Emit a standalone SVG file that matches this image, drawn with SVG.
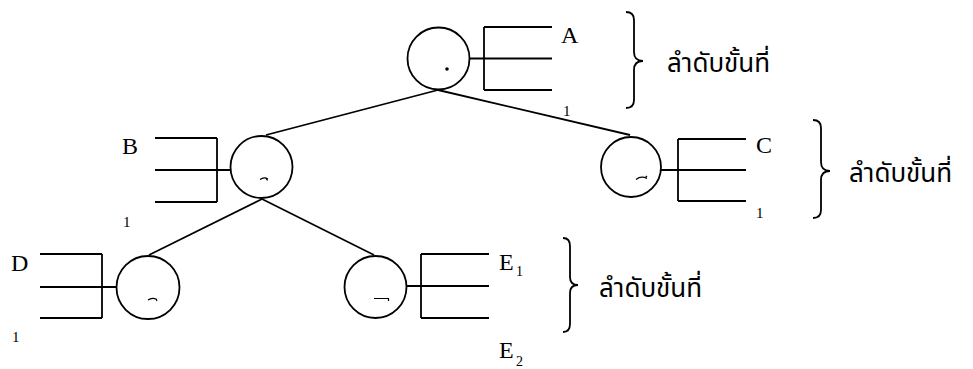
<svg xmlns="http://www.w3.org/2000/svg" width="973" height="369" viewBox="0 0 973 369">
  <style>
    .ln { stroke: #000; stroke-width: 1.8; fill: none; }
    .node circle { stroke: #000; stroke-width: 1.8; fill: #fff; }
    .mark { stroke: #000; stroke-width: 1.2; fill: none; }
    .lbl { font-family: "Liberation Serif", "Times New Roman", serif; font-size: 24px; fill: #000; }
    .sub { font-family: "Liberation Serif", "Times New Roman", serif; font-size: 14px; fill: #000; }
    .num { font-family: "Liberation Serif", "Times New Roman", serif; font-size: 15px; fill: #000; }
    .thai { font-family: "Noto Sans Thai", "Noto Sans", "DejaVu Sans", sans-serif; font-size: 26px; fill: #000; }
  </style>

  <!-- tree edges -->
  <g id="connectors" class="ln">
    <line x1="438" y1="90" x2="266" y2="135"/>
    <line x1="438" y1="90" x2="630" y2="135"/>
    <line x1="262" y1="199" x2="149" y2="255"/>
    <line x1="262" y1="199" x2="374" y2="255"/>
  </g>

  <!-- root node A -->
  <g id="node-A" class="node">
    <circle cx="438.5" cy="58.5" r="31"/>
    <circle cx="447" cy="69" r="0.9" fill="#000" stroke="none"/>
    <path class="ln" d="M469.5 58.5H552M484 27V90M484 27H552M484 90H552"/>
    <text class="lbl" x="561" y="43">A</text>
    <text class="num" x="563" y="116">1</text>
  </g>

  <!-- node B -->
  <g id="node-B" class="node">
    <circle cx="261.5" cy="167" r="31"/>
    <path class="mark" d="M260 179.5Q264 176.5 268 179M266 178.5l1.5 2"/>
    <path class="ln" d="M155 170H230.5M217 138V202M155 138H217M155 202H217"/>
    <text class="lbl" x="122" y="154">B</text>
    <text class="num" x="123" y="227">1</text>
  </g>

  <!-- node C -->
  <g id="node-C" class="node">
    <circle cx="631" cy="167" r="30"/>
    <path class="mark" d="M636 179.5Q641 175.5 647 178.5M645.5 177.5l1.5 -1.5"/>
    <path class="ln" d="M661 170H746M678 139V201M678 139H746M678 201H746"/>
    <text class="lbl" x="756" y="153">C</text>
    <text class="num" x="756" y="218">1</text>
  </g>

  <!-- node D -->
  <g id="node-D" class="node">
    <circle cx="148" cy="287.5" r="31.5"/>
    <path class="mark" d="M148 300Q152 297 157 299.5M156 299l1 2"/>
    <path class="ln" d="M40 287H116.5M102 254V318M40 254H102M40 318H102"/>
    <text class="lbl" x="11" y="271">D</text>
    <text class="num" x="12" y="342">1</text>
  </g>

  <!-- node E -->
  <g id="node-E" class="node">
    <circle cx="375.5" cy="287" r="31"/>
    <path class="mark" d="M374 298.5H389M388.5 298.5v2.5"/>
    <path class="ln" d="M406.5 286H489M421 254V318M421 254H489M421 318H489"/>
    <text class="lbl" x="499" y="270">E</text>
    <text class="sub" x="516" y="276">1</text>
    <text class="lbl" x="499" y="358">E</text>
    <text class="sub" x="516" y="366">2</text>
  </g>

  <!-- level braces with captions -->
  <g id="level-1">
    <path class="ln" d="M626 12Q634 12 634 20V52Q634 61 643 61Q634 61 634 70V100Q634 108 626 108"/>
    <text class="thai" x="667" y="72">ลำดับขั้นที่</text>
  </g>
  <g id="level-2">
    <path class="ln" d="M813 120Q821 120 821 128V162Q821 171 830 171Q821 171 821 180V210Q821 218 813 218"/>
    <text class="thai" x="849" y="182">ลำดับขั้นที่</text>
  </g>
  <g id="level-3">
    <path class="ln" d="M563 238Q570 238 570 246V277Q570 285 578 285Q570 285 570 293V324Q570 332 563 332"/>
    <text class="thai" x="599" y="297">ลำดับขั้นที่</text>
  </g>
</svg>
